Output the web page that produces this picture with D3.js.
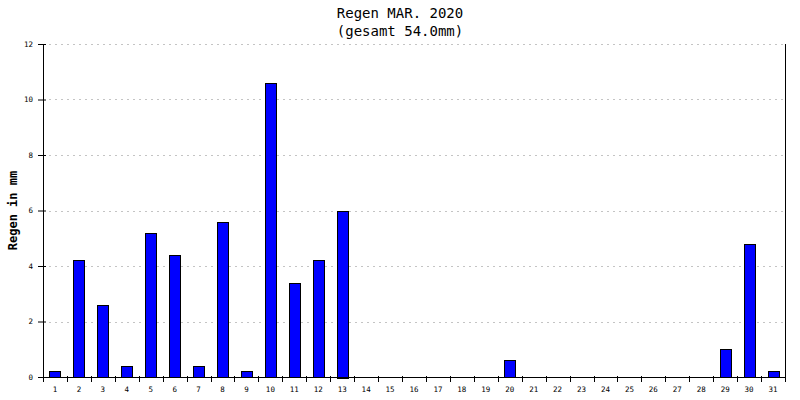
<!DOCTYPE html>
<html>
<head>
<meta charset="utf-8">
<script src="https://cdn.jsdelivr.net/npm/d3@7"></script>
<style>
    body { margin: 0; background: #fff; }
    text { font-family: "DejaVu Sans Mono", monospace; fill: #000; }
</style>
</head>
<body>
<div id="chart"></div>
<script>
const days = d3.range(1, 32).map(String);
const rain = [0.2, 4.2, 2.6, 0.4, 5.2, 4.4, 0.4, 5.6, 0.2, 10.6,
    3.4, 4.2, 6.0, 0, 0, 0, 0, 0, 0, 0.6,
    0, 0, 0, 0, 0, 0, 0, 0, 1.0, 4.8, 0.2];
const yTicks = [0, 2, 4, 6, 8, 10, 12];
const title = ["Regen MAR. 2020", "(gesamt 54.0mm)"];
const yLabel = "Regen in mm";

const width = 800, height = 400;
const margin = { top: 44, right: 15, bottom: 23, left: 43 };
const chartWidth = width - margin.left - margin.right;
const chartHeight = height - margin.top - margin.bottom;

const svg = d3.select("#chart")
    .append("svg")
    .attr("width", width)
    .attr("height", height);

const g = svg.append("g")
    .attr("transform", `translate(${margin.left},${margin.top})`);

const x = d3.scaleBand()
    .domain(days)
    .range([0, chartWidth])
    .paddingInner(0.54)
    .paddingOuter(0.27);

const xb = d3.scaleBand()
    .domain(days)
    .range([0, chartWidth]);

const y = d3.scaleLinear()
    .domain([0, 12])
    .range([chartHeight, 0]);

// grid
g.append("g")
    .selectAll("line")
    .data(yTicks.filter(t => t > 0))
    .enter().append("line")
    .attr("x1", 6)
    .attr("x2", chartWidth)
    .attr("y1", d => Math.round(y(d)) + 0.5)
    .attr("y2", d => Math.round(y(d)) + 0.5)
    .attr("stroke", "#c4c4c4")
    .attr("stroke-dasharray", "2,4");

// bars
g.append("g")
    .selectAll("rect")
    .data(rain.map((v, i) => ({ day: days[i], value: v })).filter(d => d.value > 0))
    .enter().append("rect")
    .attr("x", d => Math.round(x(d.day)) + 0.5)
    .attr("y", d => Math.round(y(d.value)) + 0.5)
    .attr("width", Math.round(x.bandwidth()))
    .attr("height", d => Math.round(chartHeight - y(d.value)))
    .attr("fill", "#0000ff")
    .attr("stroke", "#000")
    .attr("stroke-width", 1);

// y axis
const yAxis = g.append("g")
    .call(d3.axisLeft(y).tickValues(yTicks).tickSize(5).tickPadding(5).tickFormat(d3.format("d")));
yAxis.selectAll(".tick line").attr("x1", 3);
yAxis.selectAll("text").style("font-size", "7.5px");

// right border line
g.append("line")
    .attr("x1", chartWidth + 0.5).attr("x2", chartWidth + 0.5)
    .attr("y1", 0).attr("y2", chartHeight)
    .attr("stroke", "#000");

// x axis
const xAxis = g.append("g")
    .attr("transform", `translate(0,${chartHeight})`)
    .call(d3.axisBottom(x).tickSize(0).tickPadding(10));
xAxis.select(".domain").attr("d", `M0,0.5H${chartWidth}`);
xAxis.selectAll("text").style("font-size", "7.5px");

g.append("g")
    .attr("transform", `translate(0,${chartHeight})`)
    .selectAll("line")
    .data(days.concat(["end"]))
    .enter().append("line")
    .attr("x1", (d, i) => Math.round(i * xb.step()) + 0.5)
    .attr("x2", (d, i) => Math.round(i * xb.step()) + 0.5)
    .attr("y1", -1)
    .attr("y2", 5)
    .attr("stroke", "#000");

// title
svg.append("g")
    .selectAll("text")
    .data(title)
    .enter().append("text")
    .attr("x", width / 2)
    .attr("y", (d, i) => 18 + i * 18)
    .attr("text-anchor", "middle")
    .style("font-size", "14px")
    .text(d => d);

svg.append("text")
    .attr("transform", `translate(17,${margin.top + chartHeight / 2}) rotate(-90)`)
    .attr("text-anchor", "middle")
    .style("font-size", "12px")
    .style("font-weight", "bold")
    .text(yLabel);
</script>
</body>
</html>
